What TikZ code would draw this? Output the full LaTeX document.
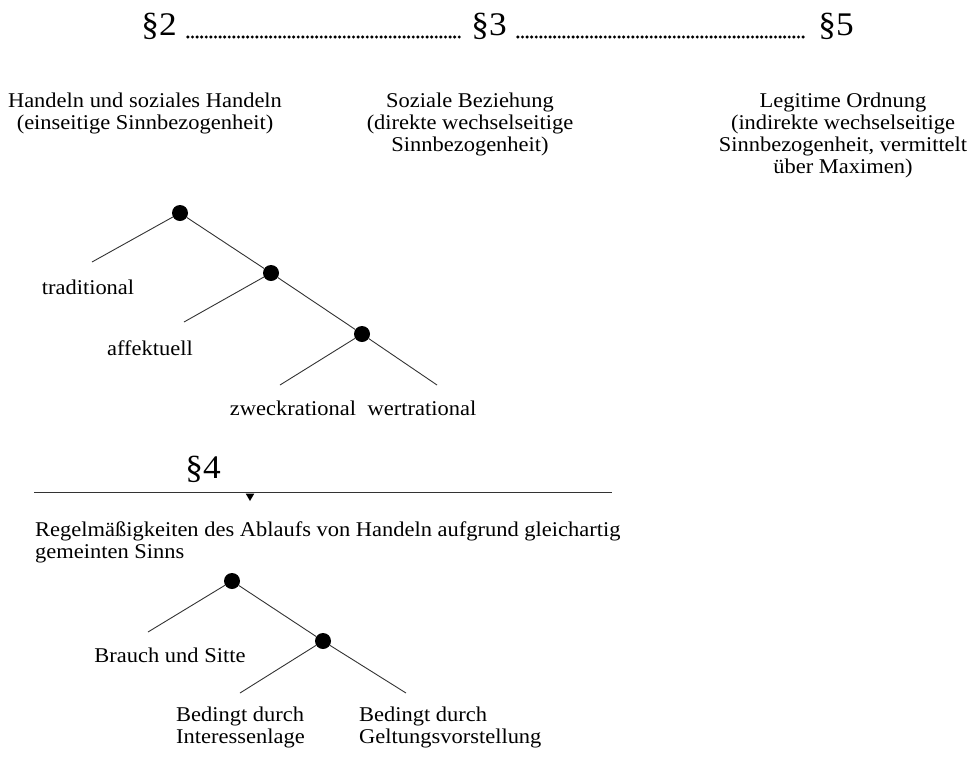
\documentclass[tikz,border=0pt]{standalone}
\usepackage{fontspec}
\setmainfont[FakeStretch=1.07]{Liberation Serif}
\usepackage{tikz}
\usetikzlibrary{shapes.geometric}

\begin{document}
\begin{tikzpicture}[x=1pt, y=-1pt, knot/.style={circle, fill, inner sep=0pt, minimum size=16pt}, txt/.style={font=\fontsize{21}{22}\selectfont, align=center, inner sep=0pt}, para/.style={font=\fontsize{33}{34}\selectfont, inner sep=0pt}, branch/.style={draw=black!80, line width=0.9pt}, dotrow/.style={line width=3.4pt, line cap=round, dash pattern=on 0pt off 4.6pt, shorten <=11pt, shorten >=11pt}]
        \useasboundingbox (0,0) rectangle (971,756);
        % Paragraphen
        \node[para] (P2) at (159,26) {§2};
        \node[para] (P3) at (489,26) {§3};
        \node[para] (P5) at (836,26) {§5};
        \draw[dotrow] ([yshift=-11pt]P2.east) -- ([yshift=-11pt]P3.west);
        \draw[dotrow] ([yshift=-11pt]P3.east) -- ([yshift=-11pt]P5.west);
        % Begriffe
        \node[txt] (handeln) at (145,113) {Handeln und soziales Handeln\\(einseitige Sinnbezogenheit)};
        \node[txt] (beziehung) at (470,124) {Soziale Beziehung\\(direkte wechselseitige\\Sinnbezogenheit)};
        \node[txt] (ordnung) at (843,135) {Legitime Ordnung\\(indirekte wechselseitige\\Sinnbezogenheit, vermittelt\\über Maximen)};
        % Baum Handeln
        \node[knot] (a1) at (180,213) {};
        \node[knot] (a2) at (271,273) {};
        \node[knot] (a3) at (362,334) {};
        \coordinate (e1) at (92,262);
        \coordinate (e2) at (184,322);
        \coordinate (e3) at (280,385);
        \coordinate (e4) at (437,385);
        \node[txt] (trad) at (88,287) {traditional};
        \node[txt] (affekt) at (150,348) {affektuell};
        \node[txt] (zweck) at (293,408) {zweckrational};
        \node[txt] (wert) at (422,408) {wertrational};
        \draw[branch] (a1) -- (e1);
        \draw[branch] (a1) -- (a2);
        \draw[branch] (a2) -- (e2);
        \draw[branch] (a2) -- (a3);
        \draw[branch] (a3) -- (e3);
        \draw[branch] (a3) -- (e4);
        % Regelmaessigkeiten
        \node[para] (P4) at (203,469) {§4};
        \coordinate (rl) at (34,492);
        \coordinate (rr) at (612,492);
        \draw[branch] (rl) -- (rr);
        \node[regular polygon, regular polygon sides=3, shape border rotate=180, fill, inner sep=0pt, minimum size=10pt] (mark) at (250,496) {};
        \node[txt, align=left, anchor=north west] (regel) at (35,522) {Regelmäßigkeiten des Ablaufs von Handeln aufgrund gleichartig\\gemeinten Sinns};
        % Baum Brauch
        \node[knot] (b1) at (232,581) {};
        \node[knot] (b2) at (323,641) {};
        \coordinate (f1) at (148,632);
        \coordinate (f2) at (240,693);
        \coordinate (f3) at (406,693);
        \node[txt] (brauch) at (170,655) {Brauch und Sitte};
        \node[txt, align=left, anchor=west] (interesse) at (176,727) {Bedingt durch\\Interessenlage};
        \node[txt, align=left, anchor=west] (geltung) at (359,727) {Bedingt durch\\Geltungsvorstellung};
        \draw[branch] (b1) -- (f1);
        \draw[branch] (b1) -- (b2);
        \draw[branch] (b2) -- (f2);
        \draw[branch] (b2) -- (f3);
    \end{tikzpicture}
\end{document}
